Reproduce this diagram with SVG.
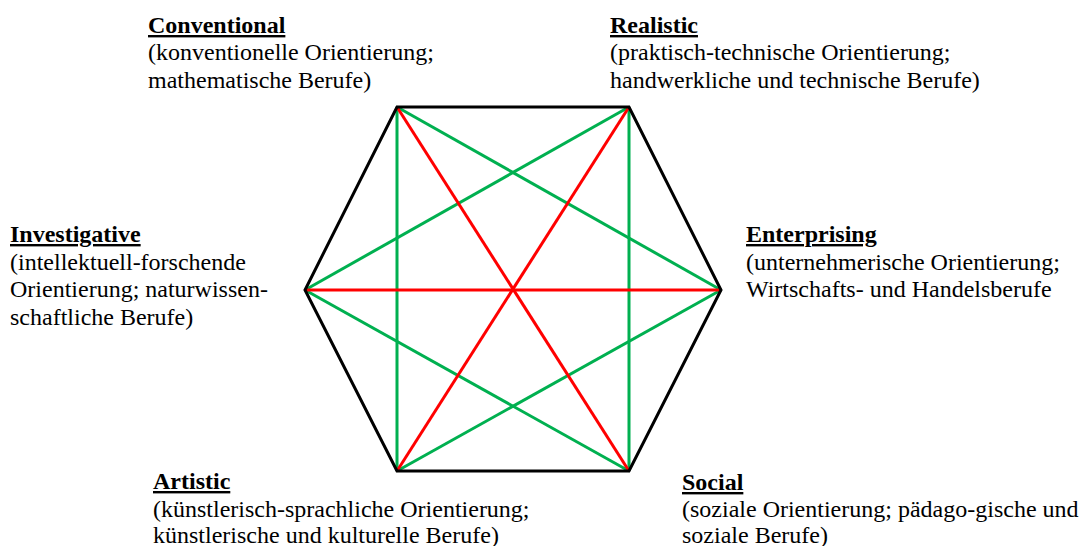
<svg xmlns="http://www.w3.org/2000/svg" width="1081" height="546" viewBox="0 0 1081 546">
<rect width="1081" height="546" fill="#fff"/>
<g id="connectors" stroke-width="3" fill="none">
<line stroke="#00b050" x1="397" y1="107" x2="397" y2="471"/>
<line stroke="#00b050" x1="629" y1="107" x2="629" y2="471"/>
<line stroke="#00b050" x1="397" y1="107" x2="721" y2="290"/>
<line stroke="#00b050" x1="629" y1="107" x2="305" y2="290"/>
<line stroke="#00b050" x1="305" y1="290" x2="629" y2="471"/>
<line stroke="#00b050" x1="721" y1="290" x2="397" y2="471"/>
<line stroke="#ff0000" x1="397" y1="107" x2="629" y2="471"/>
<line stroke="#ff0000" x1="629" y1="107" x2="397" y2="471"/>
<line stroke="#ff0000" x1="305" y1="290" x2="721" y2="290"/>
</g>
<g id="hexagon">
<polygon fill="none" stroke="#000" stroke-width="3" points="397,107 629,107 721,290 629,471 397,471 305,290"/>
</g>
<g id="conventional" font-size="24" font-family="Times New Roman, Liberation Serif, Tinos, serif">
<text x="148" y="33" font-family="Times New Roman, Liberation Serif, Tinos, serif" font-weight="bold" text-decoration="underline">Conventional</text>
<text x="148" y="60" font-family="Times New Roman, Liberation Serif, Tinos, serif">(konventionelle Orientierung;</text>
<text x="148" y="88" font-family="Times New Roman, Liberation Serif, Tinos, serif">mathematische Berufe)</text>
</g>
<g id="realistic" font-size="24" font-family="Times New Roman, Liberation Serif, Tinos, serif">
<text x="610" y="33" font-family="Times New Roman, Liberation Serif, Tinos, serif" font-weight="bold" text-decoration="underline">Realistic</text>
<text x="610" y="60" font-family="Times New Roman, Liberation Serif, Tinos, serif">(praktisch-technische Orientierung;</text>
<text x="610" y="88" font-family="Times New Roman, Liberation Serif, Tinos, serif">handwerkliche und technische Berufe)</text>
</g>
<g id="investigative" font-size="24" font-family="Times New Roman, Liberation Serif, Tinos, serif">
<text x="10" y="242" font-family="Times New Roman, Liberation Serif, Tinos, serif" font-weight="bold" text-decoration="underline">Investigative</text>
<text x="10" y="270" font-family="Times New Roman, Liberation Serif, Tinos, serif">(intellektuell-forschende</text>
<text x="10" y="297" font-family="Times New Roman, Liberation Serif, Tinos, serif">Orientierung; naturwissen-</text>
<text x="10" y="325" font-family="Times New Roman, Liberation Serif, Tinos, serif">schaftliche Berufe)</text>
</g>
<g id="enterprising" font-size="24" font-family="Times New Roman, Liberation Serif, Tinos, serif">
<text x="746" y="242" font-family="Times New Roman, Liberation Serif, Tinos, serif" font-weight="bold" text-decoration="underline">Enterprising</text>
<text x="746" y="270" font-family="Times New Roman, Liberation Serif, Tinos, serif">(unternehmerische Orientierung;</text>
<text x="746" y="297" font-family="Times New Roman, Liberation Serif, Tinos, serif">Wirtschafts- und Handelsberufe</text>
</g>
<g id="artistic" font-size="24" font-family="Times New Roman, Liberation Serif, Tinos, serif">
<text x="153" y="489" font-family="Times New Roman, Liberation Serif, Tinos, serif" font-weight="bold" text-decoration="underline">Artistic</text>
<text x="153" y="517" font-family="Times New Roman, Liberation Serif, Tinos, serif">(künstlerisch-sprachliche Orientierung;</text>
<text x="153" y="543" font-family="Times New Roman, Liberation Serif, Tinos, serif">künstlerische und kulturelle Berufe)</text>
</g>
<g id="social" font-size="24" font-family="Times New Roman, Liberation Serif, Tinos, serif">
<text x="682" y="490" font-family="Times New Roman, Liberation Serif, Tinos, serif" font-weight="bold" text-decoration="underline">Social</text>
<text x="682" y="517" font-family="Times New Roman, Liberation Serif, Tinos, serif">(soziale Orientierung; pädago-gische und</text>
<text x="682" y="543" font-family="Times New Roman, Liberation Serif, Tinos, serif">soziale Berufe)</text>
</g>
</svg>
